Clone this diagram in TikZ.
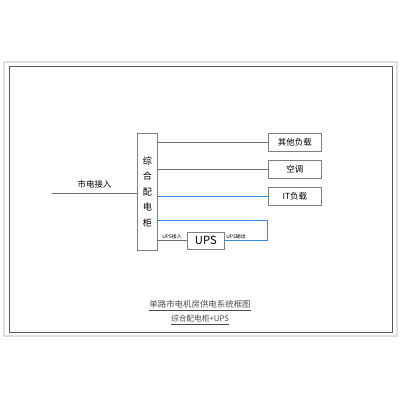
\documentclass[tikz,border=0pt]{standalone}
\usepackage{fontspec}
\newfontfamily\cjk{Noto Sans CJK SC}
\usetikzlibrary{positioning}
\definecolor{upsblue}{RGB}{50,135,225}
\definecolor{wire}{RGB}{110,110,110}

\begin{document}
\begin{tikzpicture}[x = 0.025cm, y = -0.025cm, font = \cjk,
    load/.style = {draw = gray, line width = 0.5pt, minimum width = 1.325cm, minimum height = 0.45cm, inner sep = 0pt, font = \cjk\fontsize{6}{7}\selectfont},
    feed/.style = {draw = wire, line width = 0.6pt},
    upsline/.style = {draw = upsblue, line width = 0.7pt},
    tag/.style = {inner sep = 1pt, font = \cjk\fontsize{3.5}{4}\selectfont}]
  \useasboundingbox (0,0) rectangle (400,400);
  \draw[gray!25, line width = 1.2pt] (4,62) rectangle (397,336);
  \draw[gray!70!black, line width = 0.6pt] (9,66) rectangle (392,332);
  % panel
  \node[draw = gray, line width = 0.5pt, minimum width = 0.5cm, minimum height = 2.925cm, inner sep = 0pt, anchor = north west,
        align = center, font = \cjk\fontsize{6.5}{11}\selectfont] (panel) at (137,133) {综\\合\\配\\电\\柜};
  % loads
  \node[load, anchor = north west] (other) at (268,133) {其他负载};
  \node[load, anchor = north west] (ac) at (268,160) {空调};
  \node[load, anchor = north west] (it) at (268,187) {IT负载};
  \node[draw = gray, line width = 0.5pt, minimum width = 0.925cm, minimum height = 0.425cm, inner sep = 0pt, anchor = north west,
        font = \cjk\fontsize{8}{9}\selectfont] (upsbox) at (187,232) {UPS};
  \coordinate (in) at (52,193.5);
  \coordinate (p4) at (157,220);
  \coordinate (p5) at (157,240.5);
  \coordinate (c1) at (267,220);
  \coordinate (c2) at (267,240.5);
  % feeders
  \draw[feed] (in) -- node[above, font = \cjk\fontsize{6}{7}\selectfont] {市电接入} (in -| panel.west);
  \draw[feed] (other.west -| panel.east) -- (other.west);
  \draw[feed] (ac.west -| panel.east) -- (ac.west);
  \draw[upsline] (it.west -| panel.east) -- (it.west);
  \draw[feed] (p5) -- node[tag, above] {UPS接入} (p5 -| upsbox.west);
  \draw[upsline] (p4) -- (c1) -- (c2) -- (c2 -| upsbox.east);
  \node[tag, anchor = south west] (outlbl) at (upsbox.east |- c2) {UPS输出};
  % title
  \node[font = \cjk\fontsize{6}{7}\selectfont, text = gray!60!black] (title) at (200,306) {\underline{单路市电机房供电系统框图}};
  \node[font = \cjk\fontsize{5.5}{7}\selectfont, text = gray!60!black] (subtitle) at (200,320) {\underline{综合配电柜+UPS}};
\end{tikzpicture}
\end{document}
